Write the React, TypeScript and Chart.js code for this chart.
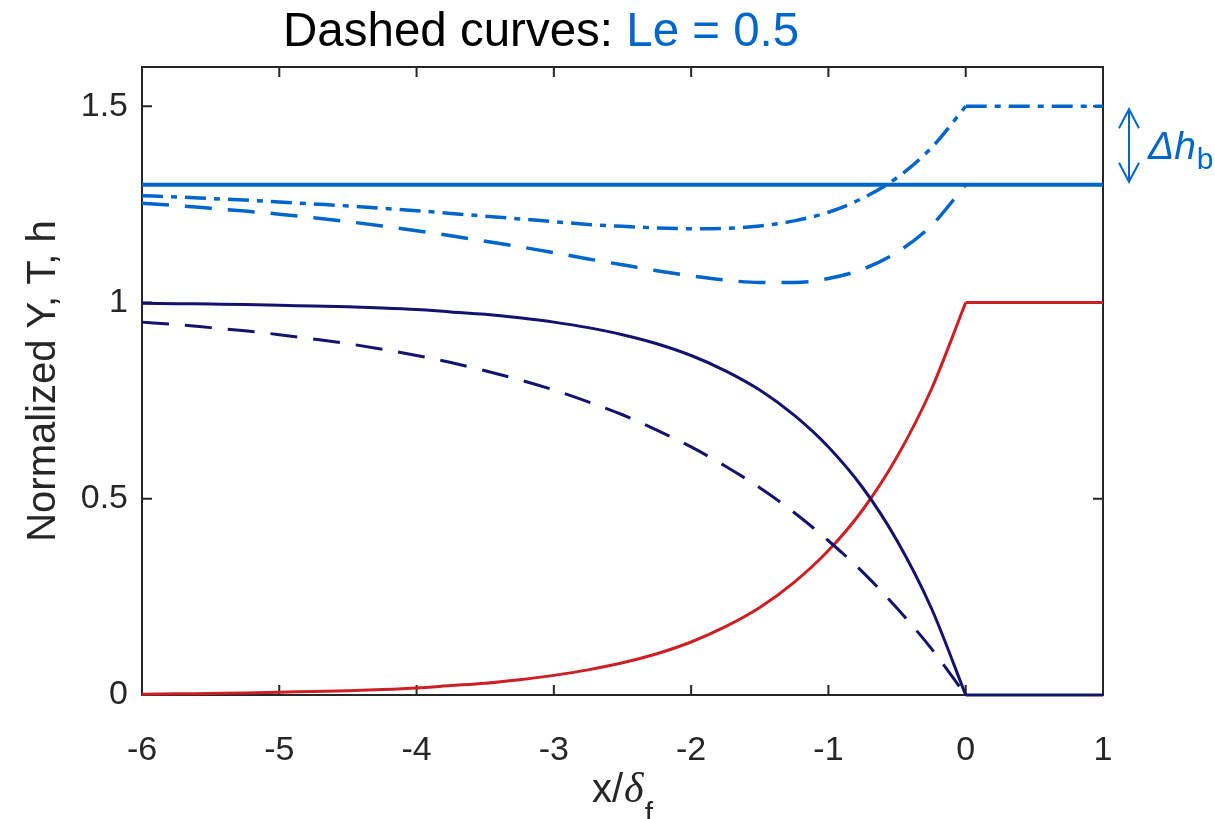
import React, { useEffect, useRef } from "react";
import { Chart, registerables } from "chart.js";

Chart.register(...registerables);

// ---- data ----
const xs = [-6, -5.75, -5.5, -5.25, -5, -4.75, -4.5, -4.25, -4, -3.75, -3.5, -3.25, -3, -2.75, -2.5, -2.25, -2, -1.75, -1.5, -1.25, -1, -0.75, -0.5, -0.25, 0];
const tempLe1 = [0.002, 0.003, 0.004, 0.005, 0.007, 0.009, 0.011, 0.014, 0.018, 0.024, 0.030, 0.039, 0.050, 0.064, 0.082, 0.105, 0.135, 0.174, 0.223, 0.287, 0.368, 0.472, 0.607, 0.779, 1.0];
const yLe1 = [0.998, 0.997, 0.996, 0.995, 0.993, 0.991, 0.989, 0.986, 0.982, 0.976, 0.970, 0.961, 0.950, 0.936, 0.918, 0.895, 0.865, 0.826, 0.777, 0.713, 0.632, 0.528, 0.393, 0.221, 0];
const yLe05 = [0.950, 0.944, 0.936, 0.928, 0.918, 0.907, 0.895, 0.881, 0.865, 0.847, 0.826, 0.803, 0.777, 0.747, 0.714, 0.675, 0.632, 0.583, 0.528, 0.465, 0.393, 0.313, 0.221, 0.118, 0];
const hLe05 = [1.253, 1.247, 1.240, 1.233, 1.225, 1.216, 1.206, 1.195, 1.183, 1.170, 1.156, 1.142, 1.127, 1.111, 1.096, 1.081, 1.068, 1.057, 1.051, 1.051, 1.061, 1.085, 1.128, 1.196, 1.300];
const hLe05b = [1.272, 1.269, 1.265, 1.261, 1.256, 1.251, 1.246, 1.240, 1.234, 1.227, 1.220, 1.213, 1.206, 1.199, 1.194, 1.190, 1.188, 1.189, 1.195, 1.208, 1.230, 1.266, 1.318, 1.394, 1.500];

const xsAfter = [0, 1];
const tempAfter = [1, 1];
const yAfter = [0, 0];
const hbAfter = [1.5, 1.5];

const xsFull = [-6, 1];
const hLe1 = [1.3, 1.3];

const xTicks = [-6, -5, -4, -3, -2, -1, 0, 1];
const yTicks = [0, 0.5, 1, 1.5];

const titleBlack = "Dashed curves: ";
const titleBlue = "Le = 0.5";
const yTitle = "Normalized Y, T, h";

// ---- styles ----
const FONT = '"Liberation Sans", Arial, Helvetica, sans-serif';
const AXIS = "#262626";
const BLUE = "#0066cc";
const NAVY = "#13136f";
const RED = "#cc2024";

const pts = (x: number[], y: number[]) => x.map((v, i) => ({ x: v, y: y[i] }));

const boxPlugin = {
  id: "boxTicks",
  beforeDatasetsDraw(chart: any) {
    const { ctx, chartArea: a, scales } = chart;
    const sx = scales.x;
    const sy = scales.y;
    const TL = 10;
    ctx.save();
    ctx.strokeStyle = AXIS;
    ctx.lineWidth = 2;
    ctx.strokeRect(a.left, a.top, a.right - a.left, a.bottom - a.top);
    ctx.beginPath();
    xTicks.forEach((v) => {
      const p = sx.getPixelForValue(v);
      ctx.moveTo(p, a.bottom);
      ctx.lineTo(p, a.bottom - TL);
      ctx.moveTo(p, a.top);
      ctx.lineTo(p, a.top + TL);
    });
    yTicks.forEach((v) => {
      const p = sy.getPixelForValue(v);
      ctx.moveTo(a.left, p);
      ctx.lineTo(a.left + TL, p);
      ctx.moveTo(a.right, p);
      ctx.lineTo(a.right - TL, p);
    });
    ctx.stroke();
    ctx.restore();
  },
  afterDraw(chart: any) {
    const { ctx, chartArea: a, scales } = chart;
    const sy = scales.y;
    ctx.save();
    // title
    ctx.textBaseline = "alphabetic";
    ctx.textAlign = "left";
    ctx.font = `47.5px ${FONT}`;
    ctx.fillStyle = "#000000";
    const tx = 283;
    ctx.fillText(titleBlack, tx, 46);
    const w1 = ctx.measureText(titleBlack).width;
    ctx.fillStyle = BLUE;
    ctx.fillText(titleBlue, tx + w1, 46);

    // y title
    ctx.save();
    ctx.translate(55, (a.top + a.bottom) / 2);
    ctx.rotate(-Math.PI / 2);
    ctx.textAlign = "center";
    ctx.fillStyle = AXIS;
    ctx.font = `40px ${FONT}`;
    ctx.fillText(yTitle, 0, 0);
    ctx.restore();

    // x title: x/δ_f
    ctx.fillStyle = AXIS;
    ctx.textAlign = "left";
    ctx.font = `40px ${FONT}`;
    let xx = 592;
    ctx.fillText("x/", xx, 802);
    xx += ctx.measureText("x/").width;
    ctx.font = `italic 42px "Liberation Serif", "DejaVu Serif", serif`;
    ctx.fillText("δ", xx + 1, 802);
    xx += ctx.measureText("δ").width + 2;
    ctx.font = `30px ${FONT}`;
    ctx.fillText("f", xx, 823);

    // Δh_b annotation
    const ax = 1129;
    const yTop = sy.getPixelForValue(1.5) + 3;
    const yBot = sy.getPixelForValue(1.3) - 3;
    ctx.strokeStyle = BLUE;
    ctx.lineWidth = 2;
    ctx.beginPath();
    ctx.moveTo(ax, yTop);
    ctx.lineTo(ax, yBot);
    ctx.moveTo(ax - 10, yTop + 19);
    ctx.lineTo(ax, yTop);
    ctx.lineTo(ax + 10, yTop + 19);
    ctx.moveTo(ax - 10, yBot - 19);
    ctx.lineTo(ax, yBot);
    ctx.lineTo(ax + 10, yBot - 19);
    ctx.stroke();
    ctx.fillStyle = BLUE;
    ctx.font = `italic 39px ${FONT}`;
    ctx.fillText("Δh", 1148, 159);
    const wd = ctx.measureText("Δh").width;
    ctx.font = `30px ${FONT}`;
    ctx.fillText("b", 1148 + wd + 1, 169);
    ctx.restore();
  },
};

export default function App() {
  const ref = useRef<HTMLCanvasElement | null>(null);
  useEffect(() => {
    if (!ref.current) return;
    const common = { pointRadius: 0, fill: false, clip: false as any };
    const chart = new Chart(ref.current, {
      type: "line",
      data: {
        datasets: [
          { ...common, data: pts(xsFull, hLe1), borderColor: BLUE, borderWidth: 4 },
          { ...common, data: pts(xs, hLe05), borderColor: BLUE, borderWidth: 3.5, borderDash: [27, 16], cubicInterpolationMode: "monotone" },
          { ...common, data: pts(xs, hLe05b), borderColor: BLUE, borderWidth: 3.5, borderDash: [21, 8, 6, 8], cubicInterpolationMode: "monotone" },
          { ...common, data: pts(xsAfter, hbAfter), borderColor: BLUE, borderWidth: 3.5, borderDash: [21, 8, 6, 8] },
          { ...common, data: pts(xs, yLe05), borderColor: NAVY, borderWidth: 3, borderDash: [27, 16], cubicInterpolationMode: "monotone" },
          { ...common, data: pts(xs, yLe1), borderColor: NAVY, borderWidth: 3, cubicInterpolationMode: "monotone" },
          { ...common, data: pts(xsAfter, yAfter), borderColor: NAVY, borderWidth: 3 },
          { ...common, data: pts(xs, tempLe1), borderColor: RED, borderWidth: 3, cubicInterpolationMode: "monotone" },
          { ...common, data: pts(xsAfter, tempAfter), borderColor: RED, borderWidth: 3 },
        ] as any,
      },
      options: {
        responsive: false,
        animation: false,
        devicePixelRatio: 1,
        layout: { padding: { top: 67, right: 112, left: 0, bottom: 0 } },
        plugins: {
          legend: { display: false },
          tooltip: { enabled: false },
          title: { display: false },
        },
        scales: {
          x: {
            type: "linear",
            min: -6,
            max: 1,
            grid: { display: false, drawTicks: false },
            border: { display: false },
            afterBuildTicks: (s: any) => {
              s.ticks = xTicks.map((v) => ({ value: v }));
            },
            afterFit: (s: any) => {
              s.height = 124;
            },
            ticks: {
              font: { family: FONT, size: 34 },
              color: AXIS,
              padding: 35,
              maxRotation: 0,
              autoSkip: false,
              callback: (v: any) => String(v),
            },
          },
          y: {
            type: "linear",
            min: 0,
            max: 1.6,
            grid: { display: false, drawTicks: false },
            border: { display: false },
            afterBuildTicks: (s: any) => {
              s.ticks = yTicks.map((v) => ({ value: v }));
            },
            afterFit: (s: any) => {
              s.width = 142;
            },
            ticks: {
              font: { family: FONT, size: 34 },
              color: AXIS,
              padding: 14,
              autoSkip: false,
              callback: (v: any) => String(v),
            },
          },
        },
      } as any,
      plugins: [boxPlugin],
    });
    return () => chart.destroy();
  }, []);
  return (
    <div style={{ position: "absolute", left: 0, top: 0, width: 1215, height: 819, background: "#fff" }}>
      <canvas ref={ref} width={1215} height={819} style={{ display: "block" }} />
    </div>
  );
}
